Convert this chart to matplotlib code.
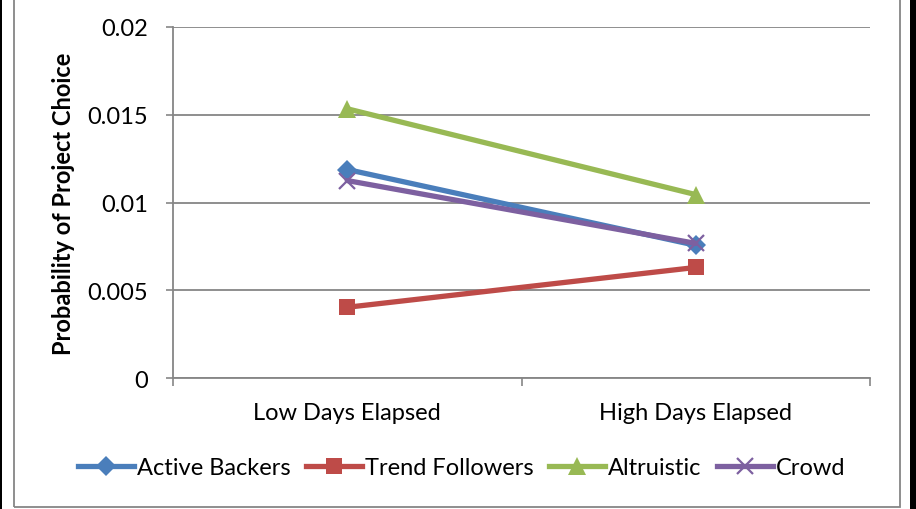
import matplotlib
matplotlib.use("Agg")
import matplotlib.pyplot as plt
from matplotlib.lines import Line2D
from matplotlib.patches import Rectangle

plt.rcParams['font.family'] = ['Lato', 'DejaVu Sans']

categories = ["Low Days Elapsed", "High Days Elapsed"]
series_names = ["Active Backers", "Trend Followers", "Altruistic", "Crowd"]
active_backers = [0.01188, 0.00756]
trend_followers = [0.00403, 0.00630]
altruistic = [0.01534, 0.01045]
crowd = [0.01125, 0.00767]
y_ticks = [0, 0.005, 0.01, 0.015, 0.02]
y_tick_labels = ["0", "0.005", "0.01", "0.015", "0.02"]

colors = ["#4A7EBB", "#BE4B48", "#98B954", "#7D60A0"]
markers = ["D", "s", "^", "x"]
msizes = [10, 11, 13, 11]
FS = 17

fig = plt.figure(figsize=(9.16, 5.10), dpi=100)
ax = fig.add_axes([173 / 916, 1 - 379 / 510, (870 - 173) / 916, (379 - 28) / 510])

xs = [0.5, 1.5]
all_series = [active_backers, trend_followers, altruistic, crowd]
for name, vals, c, m, ms in zip(series_names, all_series, colors, markers, msizes):
    kw = dict(color=c, lw=3.8, marker=m, markersize=ms, label=name, solid_capstyle='round')
    kw.update(markeredgewidth=(1.6 if m == "x" else 0))
    ax.plot(xs, vals, **kw)

ax.set_xlim(0, 2)
ax.set_ylim(0, 0.02)
ax.set_yticks(y_ticks)
ax.set_yticklabels(y_tick_labels)
ax.set_xticks([0, 1, 2])
ax.set_xticklabels([])
ax.set_xticks(xs, minor=True)
ax.set_xticklabels(categories, minor=True)
ax.tick_params(axis='x', which='minor', length=0, pad=17, labelsize=FS)
ax.tick_params(axis='x', which='major', length=6, width=1.2, color='#868686', direction='out')
ax.tick_params(axis='y', length=5, width=1.2, color='#868686', direction='out', pad=13, labelsize=FS)

ax.grid(axis='y', color='#868686', lw=1.3)
ax.set_axisbelow(True)
for side in ['top', 'right']:
    ax.spines[side].set_visible(False)
for side in ['left', 'bottom']:
    ax.spines[side].set_color('#868686')
    ax.spines[side].set_linewidth(1.3)

ax.set_ylabel("Probability of Project Choice", fontsize=FS, fontweight='bold')
ax.yaxis.set_label_coords((75 - 173) / (870 - 173), 0.5)

handles = [Line2D([], [], color=c, lw=3.8, marker=m, markersize=ms,
                  markeredgewidth=(1.6 if m == "x" else 0))
           for c, m, ms in zip(colors, markers, msizes)]
fig.legend(handles, series_names, loc='center', bbox_to_anchor=(462 / 916, 1 - 469 / 510),
           ncol=4, frameon=False, fontsize=FS, handlelength=2.35, handletextpad=0.15,
           columnspacing=0.65, borderpad=0)

# chart frame
fig.patches.append(Rectangle((14 / 916, 2 / 510), (900 - 14) / 916, 1.2, transform=fig.transFigure,
                             fill=False, edgecolor='#868686', lw=1.3))
fig.patches.append(Rectangle((0, 0), 2 / 916, 1, transform=fig.transFigure,
                             facecolor='black', edgecolor='none'))
fig.patches.append(Rectangle((910 / 916, 0), 6 / 916, 1, transform=fig.transFigure,
                             facecolor='black', edgecolor='none'))

fig.savefig("out.png", dpi=100)
